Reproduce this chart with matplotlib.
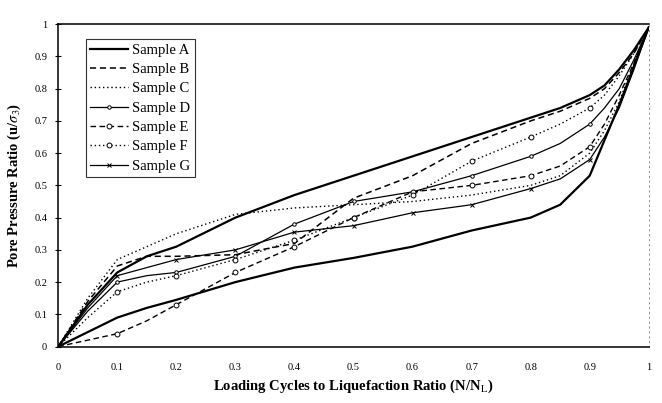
import matplotlib
matplotlib.use('Agg')
import matplotlib.pyplot as plt

# loading cycle ratio N/NL and pore pressure ratio per sample
x = [0, 0.05, 0.1, 0.15, 0.2, 0.3, 0.4, 0.5, 0.6, 0.7, 0.8, 0.85, 0.9, 0.925, 0.95, 0.975, 1.0]
sample_a = [0, 0.13, 0.23, 0.28, 0.31, 0.40, 0.47, 0.53, 0.59, 0.65, 0.71, 0.74, 0.78, 0.81, 0.86, 0.92, 0.99]
sample_b = [0, 0.14, 0.25, 0.28, 0.28, 0.285, 0.32, 0.46, 0.53, 0.63, 0.70, 0.73, 0.77, 0.80, 0.85, 0.91, 0.99]
sample_c = [0, 0.15, 0.27, 0.31, 0.35, 0.41, 0.43, 0.44, 0.45, 0.47, 0.50, 0.53, 0.60, 0.67, 0.76, 0.88, 0.99]
sample_d = [0, 0.11, 0.20, 0.22, 0.23, 0.28, 0.38, 0.45, 0.48, 0.53, 0.59, 0.63, 0.69, 0.74, 0.80, 0.89, 0.99]
sample_e = [0, 0.02, 0.04, 0.08, 0.13, 0.23, 0.31, 0.40, 0.48, 0.50, 0.53, 0.56, 0.62, 0.69, 0.78, 0.88, 0.99]
sample_f = [0, 0.09, 0.17, 0.20, 0.22, 0.27, 0.33, 0.40, 0.47, 0.575, 0.65, 0.69, 0.74, 0.78, 0.84, 0.91, 0.99]
sample_g = [0, 0.12, 0.22, 0.245, 0.27, 0.30, 0.355, 0.375, 0.415, 0.44, 0.49, 0.52, 0.58, 0.65, 0.74, 0.86, 0.99]
lower_bound = [0, 0.045, 0.09, 0.12, 0.145, 0.2, 0.245, 0.275, 0.31, 0.36, 0.40, 0.44, 0.53, 0.64, 0.75, 0.87, 0.99]

ticks = [0, 0.1, 0.2, 0.3, 0.4, 0.5, 0.6, 0.7, 0.8, 0.9, 1]
tick_labels = ['0', '0.1', '0.2', '0.3', '0.4', '0.5', '0.6', '0.7', '0.8', '0.9', '1']

plt.rcParams['font.family'] = ['Liberation Serif', 'DejaVu Serif']
plt.rcParams['mathtext.fontset'] = 'stix'

fig = plt.figure(figsize=(6.62, 4.03), dpi=100)
ax = fig.add_axes([0.088, 0.14, 0.892, 0.80])

marks = [2, 4, 5, 6, 7, 8, 9, 10, 12]
ax.plot(x, sample_a, color='black', lw=1.6, label='Sample A')
ax.plot(x, sample_b, color='black', lw=1.1, ls=(0, (4, 2.5)), label='Sample B')
ax.plot(x, sample_c, color='black', lw=1.0, ls=(0, (1, 2)), label='Sample C')
ax.plot(x, sample_d, color='black', lw=0.9, marker='o', ms=2.5, mfc='white',
        mew=0.7, markevery=marks, label='Sample D')
ax.plot(x, sample_e, color='black', lw=1.0, ls=(0, (4, 2.5)), marker='o', ms=3.5,
        mfc='white', mew=0.7, markevery=marks, label='Sample E')
ax.plot(x, sample_f, color='black', lw=1.0, ls=(0, (1, 2)), marker='o', ms=3.5,
        mfc='white', mew=0.7, markevery=marks, label='Sample F')
ax.plot(x, sample_g, color='black', lw=0.9, marker='x', ms=2.8, mew=0.7,
        markevery=marks, label='Sample G')
ax.plot(x, lower_bound, color='black', lw=1.6)

ax.set_xlim(0, 1)
ax.set_ylim(0, 1)
ax.set_xticks(ticks)
ax.set_xticklabels(tick_labels)
ax.set_yticks(ticks)
ax.set_yticklabels(tick_labels)
ax.tick_params(direction='inout', length=4, width=0.8, labelsize=7.5)
ax.tick_params(axis='x', length=0, pad=12)
ax.tick_params(axis='y', pad=6)

for s in ['left', 'bottom', 'top']:
    ax.spines[s].set_linewidth(1.1)
ax.spines['right'].set_linestyle((0, (1, 4)))
ax.spines['right'].set_linewidth(0.7)
ax.spines['right'].set_color('#888888')

ax.set_xlabel(r'Loading Cycles to Liquefaction Ratio (N/N$_\mathrm{L}$)', fontsize=10.5,
              fontweight='bold', labelpad=4)
ax.set_ylabel(r'Pore Pressure Ratio (u/$\sigma_3$)', fontsize=10.5,
              fontweight='bold', labelpad=8)

leg = ax.legend(loc='upper left', bbox_to_anchor=(0.034, 0.976), fontsize=10.5,
                frameon=True, fancybox=False, edgecolor='black', handlelength=2.6,
                borderpad=0.3, labelspacing=0.42, handletextpad=0.3)
leg.get_frame().set_linewidth(0.8)

fig.savefig('out.png', dpi=100)
